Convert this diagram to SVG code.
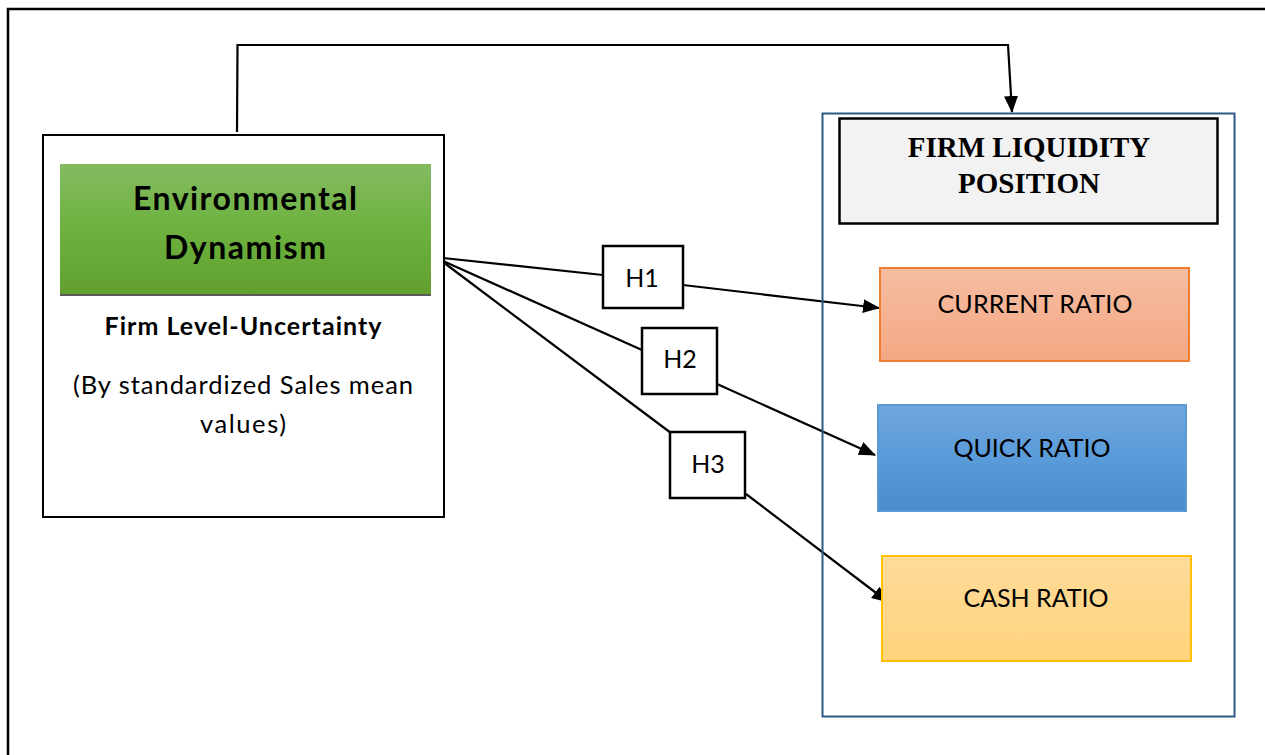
<svg xmlns="http://www.w3.org/2000/svg" width="1265" height="755" viewBox="0 0 1265 755">
<defs>
<linearGradient id="gGreen" x1="0" y1="0" x2="0" y2="1"><stop offset="0" stop-color="#84bb62"/><stop offset="0.5" stop-color="#6db13e"/><stop offset="1" stop-color="#62a02f"/></linearGradient>
<linearGradient id="gOrange" x1="0" y1="0" x2="0" y2="1"><stop offset="0" stop-color="#f6bda2"/><stop offset="1" stop-color="#f4a883"/></linearGradient>
<linearGradient id="gBlue" x1="0" y1="0" x2="0" y2="1"><stop offset="0" stop-color="#70a6dc"/><stop offset="0.5" stop-color="#5a9bda"/><stop offset="1" stop-color="#4a8ccc"/></linearGradient>
<linearGradient id="gYellow" x1="0" y1="0" x2="0" y2="1"><stop offset="0" stop-color="#ffdb9a"/><stop offset="1" stop-color="#ffd47c"/></linearGradient>
<marker id="arr" markerWidth="17" markerHeight="14" refX="16" refY="7" orient="auto" markerUnits="userSpaceOnUse"><path d="M0,0 L17,7 L0,14 Z" fill="#000"/></marker>
</defs>
<style>
.ln{fill:none;stroke:#000;stroke-width:2.2}
.cal{font-family:Lato,"Open Sans","Liberation Sans",sans-serif;fill:#000;text-anchor:middle}
.tnr{font-family:"Liberation Serif",serif;font-weight:bold;fill:#000;text-anchor:middle}
.hb{fill:#fff;stroke:#000;stroke-width:2.5}
</style>
<rect x="0" y="0" width="1265" height="755" fill="#fff"/>
<rect id="frame" x="8" y="9" width="1270" height="760" fill="none" stroke="#000" stroke-width="2.5"/>

<g id="connectors">
<polyline class="ln" points="237,132 237.5,45 1008,45 1012,112" marker-end="url(#arr)"/>
<line class="ln" x1="443" y1="258" x2="603" y2="275"/>
<line class="ln" x1="683" y1="285" x2="879" y2="308" marker-end="url(#arr)"/>
<line class="ln" x1="443" y1="261" x2="642" y2="350"/>
<line class="ln" x1="717" y1="384" x2="875" y2="455" marker-end="url(#arr)"/>
<line class="ln" x1="443" y1="262" x2="671" y2="433"/>
<line class="ln" x1="746" y1="494" x2="888" y2="602" marker-end="url(#arr)"/>
</g>

<g id="env">
<rect x="43" y="135" width="401" height="382" fill="#fff" stroke="#000" stroke-width="2"/>
<rect x="60" y="164" width="371" height="131" fill="url(#gGreen)"/>
<line x1="60" y1="295" x2="431" y2="295" stroke="#5a5a5a" stroke-width="2"/>
<text class="cal" x="245" y="210" font-size="32" font-weight="bold" textLength="224">Environmental</text>
<text class="cal" x="245" y="259" font-size="32" font-weight="bold" textLength="162">Dynamism</text>
<text class="cal" x="243" y="335" font-size="25" font-weight="bold" textLength="277">Firm Level-Uncertainty</text>
<text class="cal" x="243" y="394" font-size="25.5" textLength="340">(By standardized Sales mean</text>
<text class="cal" x="243" y="433" font-size="25.5" textLength="86">values)</text>
</g>

<g id="liquidity">
<rect x="822.5" y="113.5" width="412" height="603" fill="none" stroke="#2f5986" stroke-width="2"/>
<rect x="839.5" y="118.5" width="378" height="105" fill="#f2f2f2" stroke="#000" stroke-width="2.5"/>
<text class="tnr" x="1029" y="157" font-size="29">FIRM LIQUIDITY</text>
<text class="tnr" x="1029" y="193" font-size="29">POSITION</text>
</g>

<g id="current">
<rect x="880" y="268" width="309" height="93" fill="url(#gOrange)" stroke="#ed7d31" stroke-width="2"/>
<text class="cal" x="1035" y="313" font-size="25" textLength="195">CURRENT RATIO</text>
</g>
<g id="quick">
<rect x="878" y="405" width="308" height="106" fill="url(#gBlue)" stroke="#5b9bd5" stroke-width="2"/>
<text class="cal" x="1032" y="457" font-size="25" textLength="157">QUICK RATIO</text>
</g>
<g id="cash">
<rect x="882" y="556" width="309" height="105" fill="url(#gYellow)" stroke="#ffc000" stroke-width="2"/>
<text class="cal" x="1036" y="607" font-size="25" textLength="145">CASH RATIO</text>
</g>

<g id="h1"><rect class="hb" x="603" y="246" width="80" height="62"/><text class="cal" x="642" y="287" font-size="25">H1</text></g>
<g id="h2"><rect class="hb" x="642" y="328" width="75" height="66"/><text class="cal" x="680" y="368" font-size="25">H2</text></g>
<g id="h3"><rect class="hb" x="670" y="432" width="75" height="66"/><text class="cal" x="708" y="473" font-size="25">H3</text></g>
</svg>
